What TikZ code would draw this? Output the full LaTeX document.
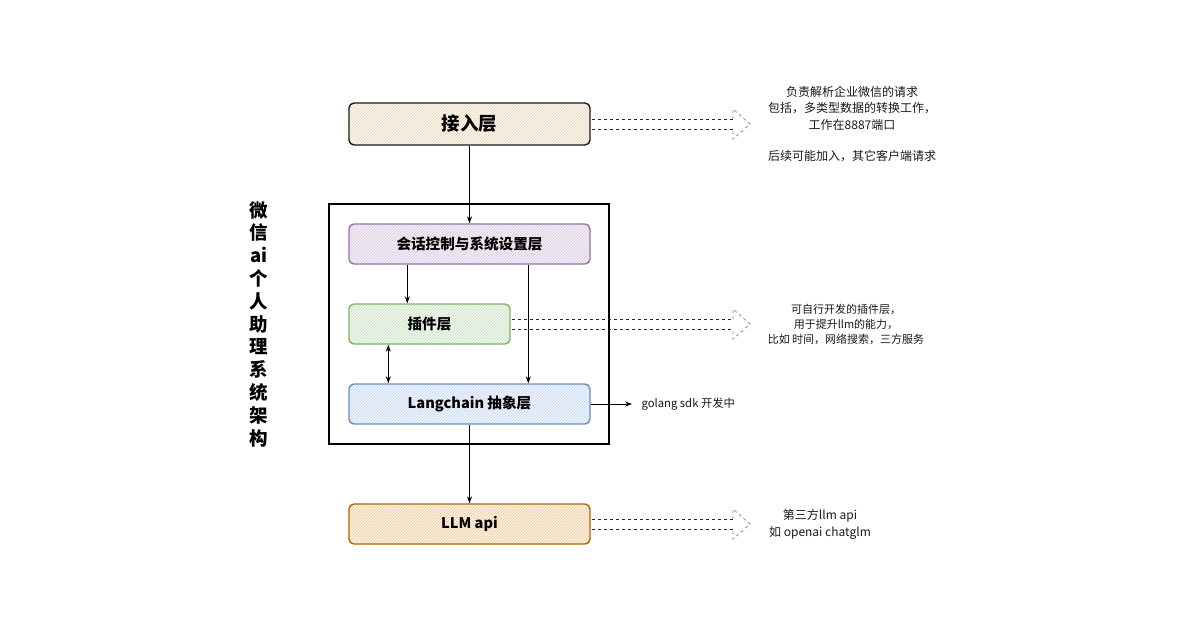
\documentclass[tikz,border=0pt]{standalone}
\usepackage{fontspec}
\setmainfont{Noto Sans CJK SC}
\usetikzlibrary{arrows.meta,calc,patterns}
\definecolor{accF}{HTML}{FDF8F0}
\definecolor{accS}{HTML}{1A1A1A}
\definecolor{accH}{HTML}{E6D3B5}
\definecolor{purF}{HTML}{F4EFF7}
\definecolor{purS}{HTML}{9673A6}
\definecolor{purH}{HTML}{D8C8E0}
\definecolor{grnF}{HTML}{EFF7EE}
\definecolor{grnS}{HTML}{82B366}
\definecolor{grnH}{HTML}{C8E0C2}
\definecolor{bluF}{HTML}{EEF4FD}
\definecolor{bluS}{HTML}{6C8EBF}
\definecolor{bluH}{HTML}{C6D8F2}
\definecolor{llmF}{HTML}{FDF2E3}
\definecolor{llmS}{HTML}{B46504}
\definecolor{llmH}{HTML}{EDCB9C}
\tikzset{
  layer/.style={draw=#1S, line width=1.4pt, rounded corners=5pt, minimum height=40pt,
    fill=#1F, font=\fontsize{14.6}{17}\selectfont\bfseries, inner sep=0pt,
    path picture={\fill[pattern=north east lines, pattern color=#1H]
      (path picture bounding box.south west) rectangle (path picture bounding box.north east);}},
  flow/.style={-{Stealth[length=7pt,width=5pt]}, line width=0.8pt, black},
  shaft/.style={dashed, line width=0.8pt, black!85},
  headd/.style={dashed, line width=0.8pt, black!45, line join=miter},
  note/.style={align=center, font=\fontsize{12}{16.5}\selectfont, text=black!90},
}
\begin{document}
\begin{tikzpicture}[x=1pt,y=-1pt]
\useasboundingbox (0,0) rectangle (1200,630);
\fill[white] (0,0) rectangle (1200,630);
% outer frame
\node[draw, line width=1.6pt, minimum width=280pt, minimum height=240pt, inner sep=0pt] (frame) at (469,324) {};
% layers
\node[layer=acc, minimum width=241pt, minimum height=42pt, font=\fontsize{18.5}{21}\selectfont\bfseries] (acc) at (469.5,124) {接入层};
\node[layer=pur, minimum width=241pt] (ses) at (469.5,244) {会话控制与系统设置层};
\node[layer=grn, minimum width=161pt] (plg) at (429.5,324) {插件层};
\node[layer=blu, minimum width=241pt] (lan) at (469.5,404) {Langchain 抽象层};
\node[layer=llm, minimum width=241pt] (llm) at (469.5,524) {LLM api};
% flow arrows
\draw[flow] (acc.south) -- (ses.north);
\draw[flow] ($(ses.south west)+(59,0)$) -- ($(plg.north west)+(59,0)$);
\draw[flow] ($(ses.south west)+(180,0)$) -- ($(lan.north west)+(180,0)$);
\draw[{Stealth[open,length=7pt,width=5pt]}-{Stealth[length=7pt,width=5pt]}, line width=0.8pt] ($(plg.south west)+(40,0)$) -- ($(lan.north west)+(40,0)$);
\draw[flow] (lan.south) -- (llm.north);
\coordinate (gs) at (632,404);
\draw[flow] (lan.east) -- (gs);
\node[anchor=west, font=\fontsize{11.3}{13}\selectfont, text=black!90] (gtxt) at (638,404) {golang sdk 开发中};
% hollow dashed block arrows
\coordinate (hd) at (733,0);
\foreach \n in {acc,plg,llm}{
  \draw[shaft] ($(\n.east)+(1,-5)$) -- ($(\n.east -| hd)+(0,-5)$);
  \draw[shaft] ($(\n.east)+(1,5)$) -- ($(\n.east -| hd)+(0,5)$);
  \draw[headd] ($(\n.east -| hd)+(0,-5)$) -- ($(\n.east -| hd)+(0,-15)$) -- ($(\n.east -| hd)+(17,0)$) -- ($(\n.east -| hd)+(0,15)$) -- ($(\n.east -| hd)+(0,5)$);
}
% notes
\node[note] (n1) at (852,124) {负责解析企业微信的请求\\包括，多类型数据的转换工作，\\工作在8887端口\\[14.5pt]后续可能加入，其它客户端请求};
\node[note, font=\fontsize{11}{15}\selectfont] (n2) at (846,324) {可自行开发的插件层，\\用于提升llm的能力，\\比如 时间，网络搜索，三方服务};
\node[note, font=\fontsize{12}{17}\selectfont] (n3) at (820,524.5) {第三方llm api\\如 openai chatglm};
% title
\node[align=center, font=\fontsize{18.5}{22.8}\selectfont\bfseries] (title) at (259,324) {微\\信\\ai\\个\\人\\助\\理\\系\\统\\架\\构};
\end{tikzpicture}
\end{document}
